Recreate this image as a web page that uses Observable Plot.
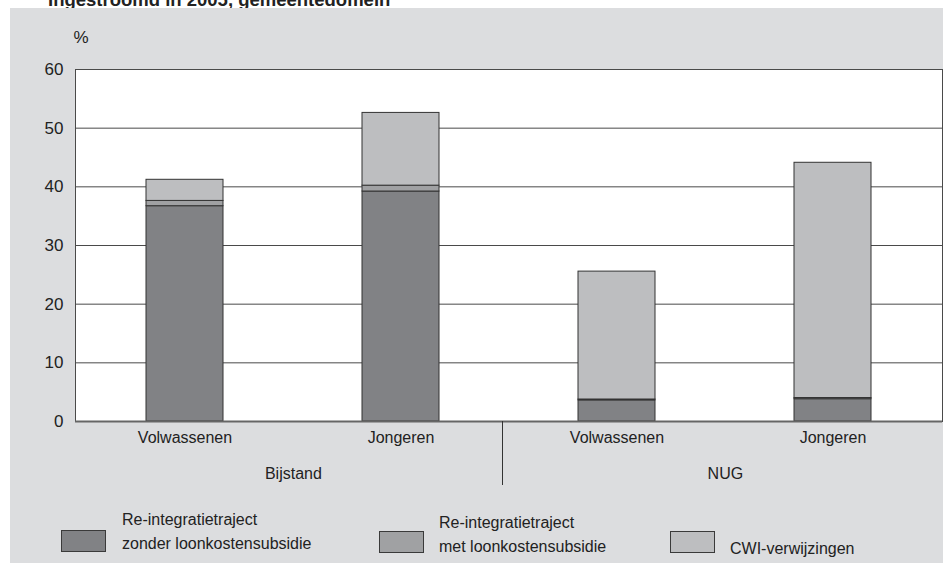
<!DOCTYPE html>
<html>
<head>
<meta charset="utf-8">
<script src="https://cdn.jsdelivr.net/npm/d3@7"></script>
<script src="https://cdn.jsdelivr.net/npm/@observablehq/plot@0.6"></script>
<style>
  html, body { margin: 0; padding: 0; background: #ffffff; }
  body { width: 943px; height: 563px; position: relative; overflow: hidden;
         font-family: "Liberation Sans", Arial, sans-serif; color: #222; }
  #title { position: absolute; left: 48px; top: -9px; font-size: 18.5px; line-height: 18px;
           font-weight: bold; white-space: nowrap; }
  #panel { position: absolute; left: 10px; top: 8px; width: 933px; height: 555px; background: #dcdddf; }
  #chart { position: absolute; left: 0; top: 0; }
  .lg-box { position: absolute; width: 45px; height: 22px; border: 1px solid #3a3a3a; box-sizing: border-box; }
  .lg-txt { position: absolute; font-size: 16px; line-height: 24px; white-space: nowrap; }
</style>
</head>
<body>
<div id="title">Ingestroomd in 2005, gemeentedomein</div>
<div id="panel"></div>
<div id="chart"></div>
<div id="legend"></div>
<script>
// ---- data ----
const groups = ["Bijstand", "Bijstand", "NUG", "NUG"];
const ages = ["Volwassenen", "Jongeren", "Volwassenen", "Jongeren"];
const seriesNames = [
  "Re-integratietraject zonder loonkostensubsidie",
  "Re-integratietraject met loonkostensubsidie",
  "CWI-verwijzingen"
];
const zonderLoonkosten = [36.7, 39.2, 3.6, 3.8];
const metLoonkosten = [0.9, 1.0, 0.15, 0.2];
const cwiVerwijzingen = [3.6, 12.4, 21.8, 40.1];
const yTicks = [0, 10, 20, 30, 40, 50, 60];
const colors = ["#818285", "#a0a1a3", "#bdbec0"];

// ---- build table ----
const keys = groups.map((g, i) => g + "|" + ages[i]);
const seriesValues = [zonderLoonkosten, metLoonkosten, cwiVerwijzingen];
const rows = [];
seriesNames.forEach((s, si) => {
  keys.forEach((k, i) => rows.push({key: k, series: s, value: seriesValues[si][i]}));
});
const groupNames = Array.from(new Set(groups));
const groupFirstKey = groupNames.map(g => keys[groups.indexOf(g)]);

const W = 943, H = 500, ML = 75, MR = 1, MT = 69, MB = 79;
const pInner = 0.645, pOuter = pInner / 2;
const step = (W - ML - MR) / (keys.length - pInner + 2 * pOuter);

const chart = Plot.plot({
  width: W, height: H,
  marginLeft: ML, marginRight: MR, marginTop: MT, marginBottom: MB,
  style: {background: "transparent", fontFamily: "Liberation Sans, Arial, sans-serif", fontSize: "16px", color: "#222"},
  x: {type: "band", domain: keys, paddingInner: pInner, paddingOuter: pOuter, align: 0.5},
  y: {domain: [0, 60]},
  color: {domain: seriesNames, range: colors},
  marks: [
    Plot.frame({fill: "white", stroke: "#4a4a4a", strokeWidth: 1}),
    Plot.ruleY(yTicks, {stroke: "#4a4a4a", strokeWidth: 1}),
    Plot.barY(rows, {x: "key", y: "value", fill: "series", stroke: "#333", strokeWidth: 1, inset: 0}),
    Plot.ruleY([0], {stroke: "#666", strokeWidth: 2}),
    Plot.axisY(yTicks, {tickSize: 0, tickPadding: 12, label: null, fontSize: 17, fill: "#222"}),
    Plot.axisX({tickSize: 0, tickPadding: 10, label: null, fontSize: 16, fill: "#222",
                tickFormat: k => k.split("|")[1]}),
    Plot.text(groupNames, {x: (d, i) => groupFirstKey[i], text: d => d, dx: step / 2,
                           frameAnchor: "bottom", dy: 57, fontSize: 16, fill: "#222"}),
    Plot.text(["%"], {frameAnchor: "top-left", dx: -2, dy: -32, lineAnchor: "middle",
                      fontSize: 17, fill: "#222", textAnchor: "start"})
  ]
});
document.getElementById("chart").appendChild(chart);

// separator between the two groups, placed with the plot's own x scale
const xs = chart.scale("x");
const sepX = xs.apply(keys[2]) - (xs.step - xs.bandwidth) / 2 - 6;
const ys = chart.scale("y");
d3.select(chart).append("line")
  .attr("x1", sepX).attr("x2", sepX)
  .attr("y1", ys.apply(0)).attr("y2", ys.apply(0) + 64)
  .attr("stroke", "#333").attr("stroke-width", 1);

// ---- legend ----
const legendItems = [
  {box: [61, 530], txt: [122, 508], lines: ["Re-integratietraject", "zonder loonkostensubsidie"]},
  {box: [379, 531], txt: [439, 511], lines: ["Re-integratietraject", "met loonkostensubsidie"]},
  {box: [670, 531], txt: [730, 537], lines: ["CWI-verwijzingen"]}
];
const lg = document.getElementById("legend");
legendItems.forEach((it, i) => {
  const b = document.createElement("div");
  b.className = "lg-box";
  b.style.left = it.box[0] + "px"; b.style.top = it.box[1] + "px";
  b.style.background = colors[i];
  lg.appendChild(b);
  const t = document.createElement("div");
  t.className = "lg-txt";
  t.style.left = it.txt[0] + "px"; t.style.top = it.txt[1] + "px";
  t.innerHTML = it.lines.join("<br>");
  t.title = seriesNames[i];
  lg.appendChild(t);
});
</script>
</body>
</html>
